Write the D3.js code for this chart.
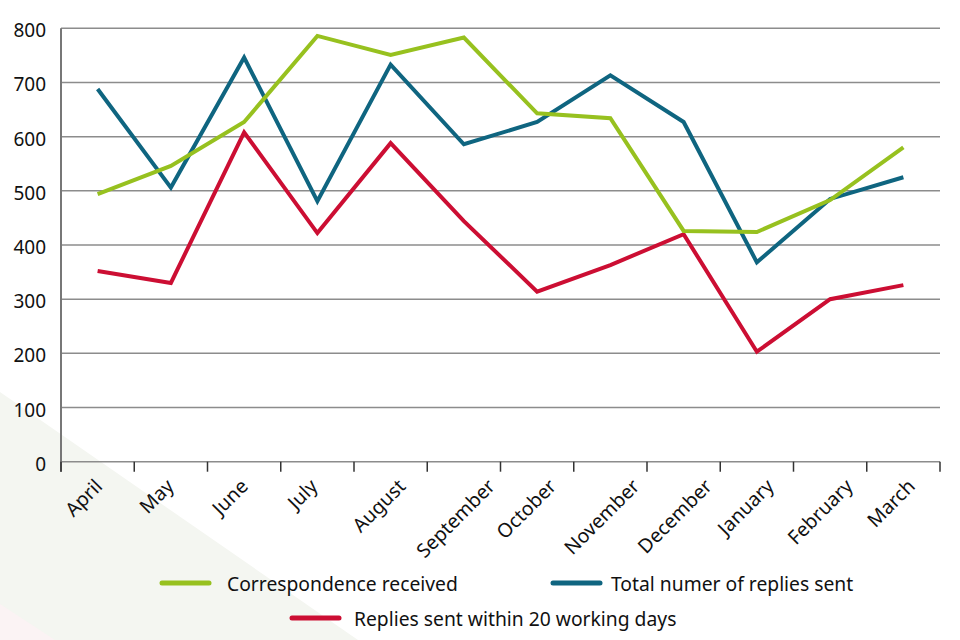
<!DOCTYPE html>
<html>
<head>
<meta charset="utf-8">
<script src="https://cdn.jsdelivr.net/npm/d3@7"></script>
<style>
  body { margin: 0; background: #fff; }
  svg { display: block; }
</style>
</head>
<body>
<svg id="chart" width="960" height="640"></svg>
<script>
const months = ["April", "May", "June", "July", "August", "September",
  "October", "November", "December", "January", "February", "March"];
const received = [494, 546, 627, 786, 751, 783, 643, 634, 426, 424, 483, 580];
const totalSent = [688, 506, 746, 481, 733, 586, 627, 713, 627, 368, 485, 525];
const within20 = [352, 330, 608, 422, 588, 444, 314, 363, 420, 203, 300, 326];
const yTicks = [0, 100, 200, 300, 400, 500, 600, 700, 800];

const svg = d3.select("#chart");
const font = "'Noto Sans', sans-serif";

// faint background shapes bottom left
svg.append("path")
  .attr("d", "M0,392 L358,640 L0,640 Z")
  .attr("fill", "#f4f6f1");
svg.append("path")
  .attr("d", "M0,604 L55,640 L0,640 Z")
  .attr("fill", "#fbf3f4");

const plotL = 61, plotR = 940, plotT = 28.3, plotB = 461.7;

const x = d3.scaleBand().domain(months).range([plotL, plotR]);
const y = d3.scaleLinear().domain([0, 800]).range([plotB, plotT]);

// gridlines
svg.append("g")
  .selectAll("line")
  .data(yTicks)
  .join("line")
  .attr("x1", plotL)
  .attr("x2", plotR)
  .attr("y1", d => y(d))
  .attr("y2", d => y(d))
  .attr("stroke", "#8c8c8c")
  .attr("stroke-width", 1.5);

// y labels
svg.append("g")
  .selectAll("text")
  .data(yTicks)
  .join("text")
  .attr("x", 46)
  .attr("y", d => y(d) + 2)
  .attr("text-anchor", "end")
  .attr("dominant-baseline", "central")
  .style("font-family", font)
  .style("font-size", "19px")
  .style("fill", "#111")
  .text(d => d);

// left axis line
svg.append("line")
  .attr("x1", plotL).attr("x2", plotL)
  .attr("y1", plotT).attr("y2", plotB + 10)
  .attr("stroke", "#777")
  .attr("stroke-width", 2);

// x ticks
const tickPos = months.map(m => x(m)).concat([plotR]);
svg.append("g")
  .selectAll("line")
  .data(tickPos)
  .join("line")
  .attr("x1", d => d).attr("x2", d => d)
  .attr("y1", plotB).attr("y2", plotB + 10)
  .attr("stroke", "#333")
  .attr("stroke-width", 1.5);

// x labels, rotated; roughly centred under the band like excel does it
svg.append("g")
  .selectAll("text")
  .data(months)
  .join("text")
  .attr("text-anchor", "end")
  .attr("dominant-baseline", "hanging")
  .style("font-family", font)
  .style("font-size", "19.5px")
  .style("fill", "#111")
  .text(d => d)
  .each(function (d) {
    const len = this.getComputedTextLength();
    const ex = x(d) + x.bandwidth() / 2 - 25 + len * 0.45;
    d3.select(this).attr("transform", `translate(${ex},${plotB + 14}) rotate(-45)`);
  });

const series = [
  { name: "Correspondence received", values: received, color: "#97c11f" },
  { name: "Total numer of replies sent", values: totalSent, color: "#0f6580" },
  { name: "Replies sent within 20 working days", values: within20, color: "#cc0e33" }
];

const line = d3.line()
  .x((d, i) => x(months[i]) + x.bandwidth() / 2)
  .y(d => y(d));

// draw red first, then blue, then green on top
[series[2], series[1], series[0]].forEach(s => {
  svg.append("path")
    .datum(s.values)
    .attr("d", line)
    .attr("fill", "none")
    .attr("stroke", s.color)
    .attr("stroke-width", 4)
    .attr("stroke-linejoin", "miter");
});

// legend
const legendPos = [
  { x: 162, y: 583, tx: 227 },
  { x: 553, y: 583, tx: 611 },
  { x: 292, y: 618, tx: 354 }
];
series.forEach((s, i) => {
  const p = legendPos[i];
  svg.append("line")
    .attr("x1", p.x).attr("x2", p.x + 47)
    .attr("y1", p.y).attr("y2", p.y)
    .attr("stroke", s.color)
    .attr("stroke-width", 5)
    .attr("stroke-linecap", "round");
  svg.append("text")
    .attr("x", p.tx)
    .attr("y", p.y)
    .attr("dominant-baseline", "central")
    .style("font-family", font)
    .style("font-size", "19.3px")
    .style("fill", "#111")
    .text(s.name);
});
</script>
</body>
</html>
